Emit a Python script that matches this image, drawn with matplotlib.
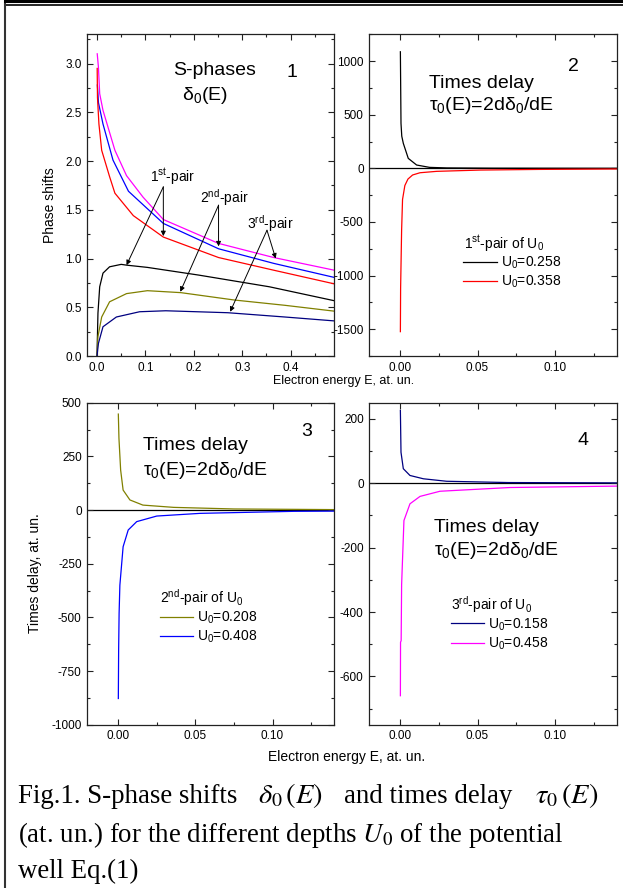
import matplotlib
matplotlib.use('Agg')
import matplotlib.pyplot as plt
from matplotlib.lines import Line2D
from matplotlib.ticker import MultipleLocator, FormatStrFormatter

plt.rcParams['font.family'] = ['Liberation Sans', 'DejaVu Sans']
plt.rcParams['axes.unicode_minus'] = False
plt.rcParams['mathtext.fontset'] = 'custom'
plt.rcParams['mathtext.rm'] = 'Liberation Sans'
plt.rcParams['mathtext.it'] = 'Liberation Sans:italic'
plt.rcParams['mathtext.bf'] = 'Liberation Sans:bold'

# ---------------- Panel 1: S-phase shifts delta_0(E) ----------------
e_m458 = [0.0005, 0.003, 0.0056, 0.0124, 0.037, 0.061, 0.095, 0.137, 0.251, 0.365, 0.49]
d_m458 = [3.10, 2.96, 2.69, 2.52, 2.11, 1.85, 1.63, 1.40, 1.155, 1.01, 0.88]

e_b408 = [0.0008, 0.003, 0.0124, 0.033, 0.065, 0.137, 0.251, 0.365, 0.49]
d_b408 = [2.78, 2.60, 2.38, 2.01, 1.69, 1.36, 1.10, 0.95, 0.806]

e_r358 = [0.0004, 0.001, 0.004, 0.0097, 0.026, 0.037, 0.075, 0.137, 0.251, 0.365, 0.49]
d_r358 = [2.95, 2.65, 2.38, 2.11, 1.84, 1.67, 1.44, 1.22, 1.01, 0.88, 0.74]

e_k258 = [0.0, 0.002, 0.0056, 0.0124, 0.026, 0.05, 0.061, 0.104, 0.21, 0.356, 0.49]
d_k258 = [0.0, 0.44, 0.71, 0.85, 0.915, 0.94, 0.932, 0.909, 0.83, 0.71, 0.567]

e_o208 = [0.0, 0.002, 0.0097, 0.026, 0.061, 0.104, 0.173, 0.284, 0.388, 0.49]
d_o208 = [0.0, 0.20, 0.40, 0.556, 0.64, 0.67, 0.65, 0.574, 0.52, 0.46]

e_n158 = [0.0, 0.003, 0.0124, 0.04, 0.088, 0.142, 0.27, 0.388, 0.49]
d_n158 = [0.0, 0.13, 0.30, 0.40, 0.454, 0.464, 0.444, 0.40, 0.36]

# ---------------- Panels 2-4: time delays tau_0(E) ----------------
te_k258 = [0.0001, 0.0005, 0.001, 0.002, 0.0052, 0.0106, 0.019, 0.03, 0.06, 0.14]
tau_k258 = [1087, 419, 300, 233, 93, 31, 9, 4, 1.5, 0.5]

te_r358 = [0.0001, 0.00025, 0.0009, 0.0015, 0.003, 0.005, 0.008, 0.0128, 0.0236, 0.052, 0.09, 0.14]
tau_r358 = [-1523, -1118, -575, -290, -160, -100, -62, -41, -28, -16, -10, -6]

te_o208 = [0.0001, 0.0005, 0.0016, 0.0032, 0.0076, 0.016, 0.036, 0.075, 0.14]
tau_o208 = [447, 334, 186, 93, 47, 23, 12.4, 5, 2]

te_b408 = [0.0001, 0.0003, 0.0006, 0.0011, 0.0032, 0.0065, 0.012, 0.025, 0.053, 0.114, 0.14]
tau_b408 = [-878, -652, -481, -350, -171, -93, -54, -28, -15.5, -6, -5]

te_n158 = [0.0001, 0.0005, 0.002, 0.0063, 0.015, 0.03, 0.07, 0.14]
tau_n158 = [226, 96, 45, 24, 13.7, 6, 2, 1]

te_m458 = [0.0001, 0.0002, 0.0006, 0.0009, 0.0024, 0.0063, 0.0128, 0.0257, 0.071, 0.14]
tau_m458 = [-660, -494, -489, -315, -116, -64, -41, -25, -13.4, -9]

MAGENTA, BLUE, RED = '#FF00FF', '#0000FF', '#FF0000'
BLACK, OLIVE, NAVY = '#000000', '#808000', '#000080'
LW = 0.9

W, H = 623, 888
fig = plt.figure(figsize=(W / 100, H / 100), dpi=100)


def box(l, t, r, b):
    return [l / W, 1 - b / H, (r - l) / W, (b - t) / H]


ax1 = fig.add_axes(box(87.3, 34.3, 334.3, 356.0))
ax2 = fig.add_axes(box(369.3, 34.3, 616.7, 356.0))
ax3 = fig.add_axes(box(87.3, 402.7, 334.3, 724.7))
ax4 = fig.add_axes(box(369.3, 402.7, 616.7, 724.7))


def style(ax, xmaj, xmin_, ymaj, ymin_, xfmt, yfmt):
    ax.xaxis.set_major_locator(MultipleLocator(xmaj))
    ax.xaxis.set_minor_locator(MultipleLocator(xmin_))
    ax.yaxis.set_major_locator(MultipleLocator(ymaj))
    ax.yaxis.set_minor_locator(MultipleLocator(ymin_))
    ax.xaxis.set_major_formatter(FormatStrFormatter(xfmt))
    ax.yaxis.set_major_formatter(FormatStrFormatter(yfmt))
    ax.tick_params(which='both', direction='in', top=True, right=True,
                   width=0.8, labelsize=8.5, color='#222222')
    ax.tick_params(which='major', length=4, pad=4)
    ax.tick_params(which='minor', length=2.5)
    for s in ax.spines.values():
        s.set_linewidth(0.9)
        s.set_color('#222222')


# Panel 1
for e, d, c in [(e_m458, d_m458, MAGENTA), (e_b408, d_b408, BLUE), (e_r358, d_r358, RED),
                (e_k258, d_k258, BLACK), (e_o208, d_o208, OLIVE), (e_n158, d_n158, NAVY)]:
    ax1.plot(e, d, color=c, lw=LW)
ax1.set_xlim(-0.02, 0.49)
ax1.set_ylim(0, 3.3)
style(ax1, 0.1, 0.05, 0.5, 0.25, '%.1f', '%.1f')

ax1.text(0.517, 0.8735, 'S-phases', transform=ax1.transAxes, ha='center', va='baseline', fontsize=14)
ax1.text(0.477, 0.7958, r'δ$_\mathregular{0}$(E)', transform=ax1.transAxes, ha='center', va='baseline', fontsize=14)
ax1.text(0.8275, 0.868, '1', transform=ax1.transAxes, ha='center', va='baseline', fontsize=14)

arrow_kw = dict(arrowstyle='-|>', lw=0.7, color='black', mutation_scale=7, shrinkA=0, shrinkB=0)
pair_labels = [
    (r'1$^\mathregular{st}$-pair', (0.157, 1.79), (0.137, 1.735), [(0.061, 0.932), (0.137, 1.23)]),
    (r'2$^\mathregular{nd}$-pair', (0.263, 1.57), (0.251, 1.547), [(0.172, 0.659), (0.251, 1.125)]),
    (r'3$^\mathregular{rd}$-pair', (0.358, 1.31), (0.351, 1.29), [(0.275, 0.454), (0.369, 1.0)]),
]
for txt, tpos, start, ends in pair_labels:
    ax1.text(tpos[0], tpos[1], txt, ha='center', va='baseline', fontsize=10)
    for end in ends:
        ax1.annotate('', xy=end, xytext=start, arrowprops=arrow_kw)


def tau_panel(ax, series, ylim, ymaj, ymin_, number, num_pos, head_pos, lab_title, title_pos, line_x, rows_mid):
    ax.axhline(0, color='black', lw=0.9, zorder=1)
    handles = []
    for e, t, c, lab in series:
        h, = ax.plot(e, t, color=c, lw=LW, label=lab, zorder=2)
        handles.append(h)
    ax.set_xlim(-0.02, 0.14)
    ax.set_ylim(*ylim)
    style(ax, 0.05, 0.025, ymaj, ymin_, '%.2f', '%d')
    ax.text(num_pos[0], num_pos[1], number, transform=ax.transAxes, ha='center', va='baseline', fontsize=14)
    ax.text(head_pos[0], head_pos[1], 'Times delay', transform=ax.transAxes, ha='left', va='baseline', fontsize=14)
    ax.text(head_pos[0], head_pos[2], r'τ$_\mathregular{0}$(E)=2dδ$_\mathregular{0}$/dE',
            transform=ax.transAxes, ha='left', va='baseline', fontsize=14)
    ax.text(title_pos[0], title_pos[1], lab_title, transform=ax.transAxes, ha='left', va='baseline', fontsize=10)
    ax.legend(handles=handles, loc='center left', bbox_to_anchor=(line_x, rows_mid), frameon=False,
              fontsize=10, handlelength=2.4, handletextpad=0.3, labelspacing=0.22, borderpad=0,
              borderaxespad=0)


tau_panel(ax2, [(te_k258, tau_k258, BLACK, r'U$_\mathregular{0}$=0.258'),
                (te_r358, tau_r358, RED, r'U$_\mathregular{0}$=0.358')],
          (-1750, 1250), 500, 250, '2', (0.8246, 0.886), (0.2425, 0.8343, 0.7638),
          r'1$^\mathregular{st}$-pair of U$_\mathregular{0}$', (0.383, 0.334), 0.38, 0.2595)

tau_panel(ax3, [(te_o208, tau_o208, OLIVE, r'U$_\mathregular{0}$=0.208'),
                (te_b408, tau_b408, BLUE, r'U$_\mathregular{0}$=0.408')],
          (-1000, 500), 250, 125, '3', (0.888, 0.8975), (0.2267, 0.853, 0.7755),
          r'2$^\mathregular{nd}$-pair of U$_\mathregular{0}$', (0.2943, 0.379), 0.2943, 0.3017)

tau_panel(ax4, [(te_n158, tau_n158, NAVY, r'U$_\mathregular{0}$=0.158'),
                (te_m458, tau_m458, MAGENTA, r'U$_\mathregular{0}$=0.458')],
          (-750, 250), 200, 100, '4', (0.865, 0.8686), (0.2627, 0.5994, 0.527),
          r'3$^\mathregular{rd}$-pair of U$_\mathregular{0}$', (0.329, 0.3562), 0.329, 0.2813)

# Axis titles
fig.text(50 / W, 1 - 205 / H, 'Phase shifts', rotation=90, ha='center', va='center', fontsize=10)
fig.text(35 / W, 1 - 573 / H, 'Times delay, at. un.', rotation=90, ha='center', va='center', fontsize=10)
fig.text(344 / W, 1 - 381 / H, 'Electron energy E, at. un.', ha='center', va='center', fontsize=9)
fig.text(347 / W, 1 - 757 / H, 'Electron energy E, at. un.', ha='center', va='center', fontsize=10)

# Caption: first line laid out piece by piece so the inline formulas get their own spacing
cap_kw = dict(fontsize=19.4, family=['Liberation Serif'], math_fontfamily='stix', ha='left', va='baseline')
math_kw = dict(cap_kw, fontsize=20.5)
renderer = fig.canvas.get_renderer()
x_px = 18.0
y1 = 1 - 802.7 / H
for piece, kw, gap in [('Fig.1. S-phase shifts', cap_kw, 21),
                       (r'$\delta_0\,(E)$', math_kw, 21),
                       ('and times delay', cap_kw, 23),
                       (r'$\tau_0\,(E)$', math_kw, 0)]:
    t = fig.text(x_px / W, y1, piece, **kw)
    x_px += t.get_window_extent(renderer).width + gap
fig.text(18 / W, 1 - 841.7 / H, r'(at. un.) for the different depths $U_0$ of the potential', **cap_kw)
fig.text(18 / W, 1 - 878.3 / H, 'well Eq.(1)', **cap_kw)

# Page frame
fig.add_artist(Line2D([5 / W, 1], [1 - 1.3 / H] * 2, transform=fig.transFigure, color='black', lw=2.2))
fig.add_artist(Line2D([5 / W, 1], [1 - 4.8 / H] * 2, transform=fig.transFigure, color='black', lw=1.2))
fig.add_artist(Line2D([5.2 / W] * 2, [1 - 4.5 / H, 0], transform=fig.transFigure, color='#333333', lw=1.5))

fig.savefig('out.png', dpi=100)
